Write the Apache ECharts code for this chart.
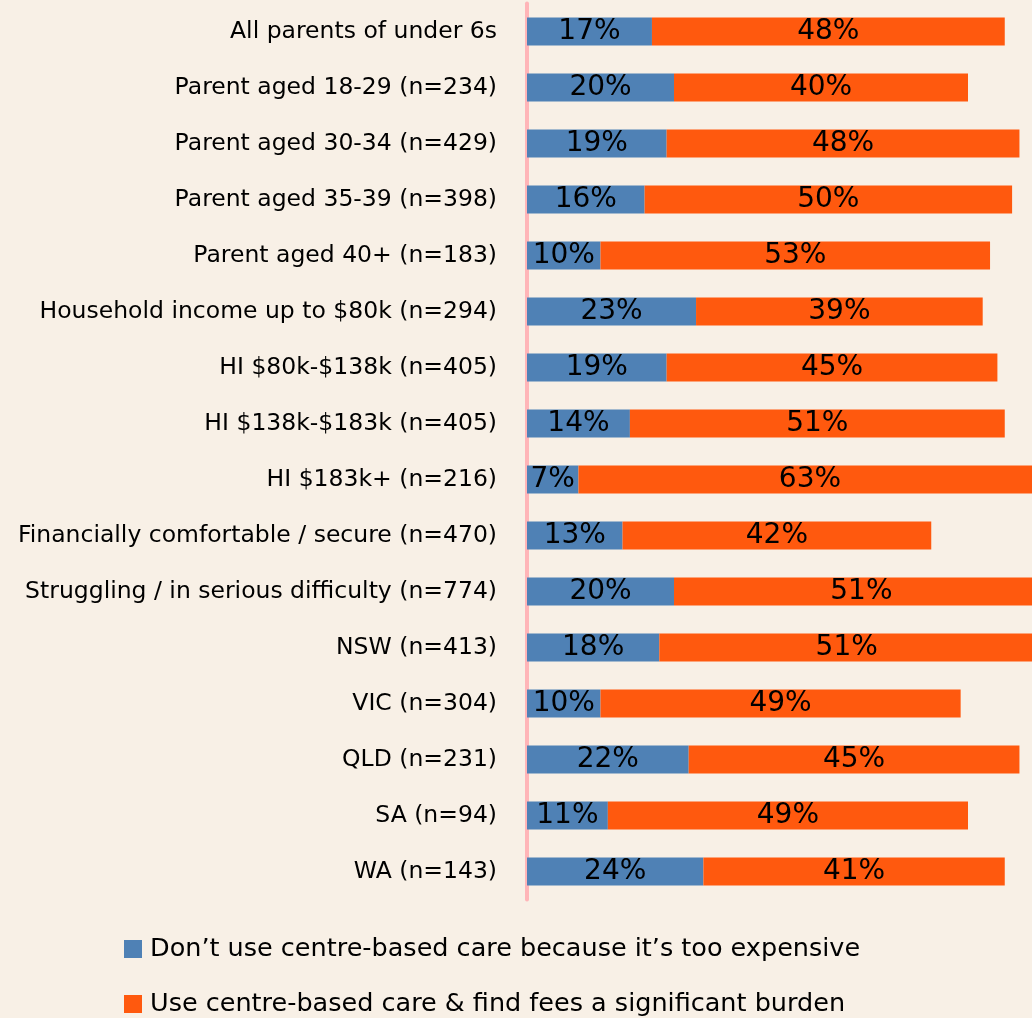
<!DOCTYPE html>
<html><head><meta charset="utf-8">
<script src="https://cdn.jsdelivr.net/npm/echarts@6/dist/echarts.min.js"></script>
<style>html,body{margin:0;padding:0;background:#f8f0e6;overflow:hidden;width:1032px;height:1018px;}#c{width:1300px;height:1018px;}</style>
</head><body><div id="c"></div>
<script>
const categories = [
  "All parents of under 6s",
  "Parent aged 18-29 (n=234)",
  "Parent aged 30-34 (n=429)",
  "Parent aged 35-39 (n=398)",
  "Parent aged 40+ (n=183)",
  "Household income up to $80k (n=294)",
  "HI $80k-$138k (n=405)",
  "HI $138k-$183k (n=405)",
  "HI $183k+ (n=216)",
  "Financially comfortable / secure (n=470)",
  "Struggling / in serious difficulty (n=774)",
  "NSW (n=413)",
  "VIC (n=304)",
  "QLD (n=231)",
  "SA (n=94)",
  "WA (n=143)"
];
const tooExpensive = [17,20,19,16,10,23,19,14,7,13,20,18,10,22,11,24];
const significantBurden = [48,40,48,50,53,39,45,51,63,42,51,51,49,45,49,41];
const seriesNames = [
  "Don\u2019t use centre-based care because it\u2019s too expensive",
  "Use centre-based care & find fees a significant burden"
];
const FONT = "DejaVu Sans";
const chart = echarts.init(document.getElementById('c'), null, {renderer:'canvas'});
const lbl = {show:true, position:'inside', color:'#000', fontFamily:FONT, fontSize:28, formatter: p => p.value + '%'};
const legendBase = {orient:'vertical', left:124, padding:0, itemWidth:18, itemHeight:18, icon:'rect',
  textStyle:{color:'#000', fontFamily:FONT, fontSize:25.5, padding:[0,0,0,3]}};
chart.setOption({
  backgroundColor:'#f8f0e6',
  animation:false,
  grid:{left:527, top:3.5, width:735, height:896},
  xAxis:{type:'value', min:0, max:100, show:false},
  yAxis:{type:'category', inverse:true, data:categories,
    axisLine:{show:true, lineStyle:{color:'#ffb5b8', width:4}},
    axisTick:{show:false},
    axisLabel:{color:'#000', fontFamily:FONT, fontSize:23.5, margin:30}},
  legend:[
    Object.assign({}, legendBase, {top:936, data:[seriesNames[0]]}),
    Object.assign({}, legendBase, {top:991, data:[seriesNames[1]]})
  ],
  series:[
    {name:seriesNames[0], type:'bar', stack:'a', data:tooExpensive, barWidth:'50%',
     itemStyle:{color:'#4f81b5'}, label:lbl},
    {name:seriesNames[1], type:'bar', stack:'a', data:significantBurden, barWidth:'50%',
     itemStyle:{color:'#ff590e'}, label:lbl}
  ]
});
</script></body></html>
